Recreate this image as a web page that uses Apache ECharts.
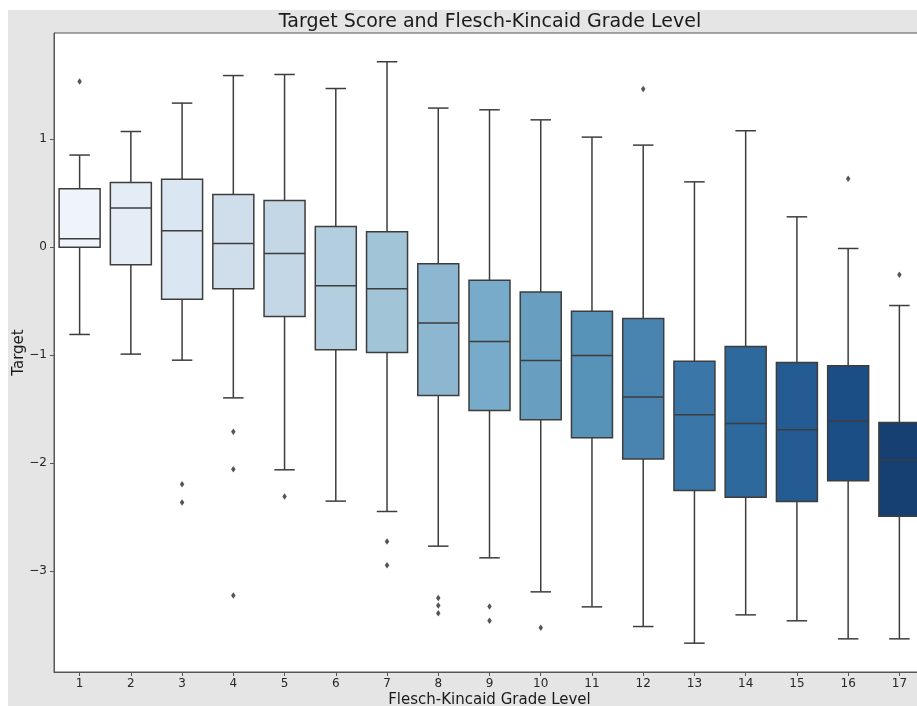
<!DOCTYPE html>
<html><head><meta charset="utf-8">
<script src="https://cdn.jsdelivr.net/npm/echarts@6/dist/echarts.min.js"></script>
<style>
html,body{margin:0;padding:0;background:#fff;width:917px;height:706px;overflow:hidden;}
#chart{position:absolute;left:8px;top:10px;width:909px;height:696px;background:#e5e5e5;}
</style></head><body><div id="chart"></div>
<script>
const categories = ['1','2','3','4','5','6','7','8','9','10','11','12','13','14','15','16','17'];
const whiskerLow = [-0.807, -0.989, -1.045, -1.394, -2.06, -2.35, -2.446, -2.767, -2.875, -3.19, -3.329, -3.511, -3.665, -3.403, -3.458, -3.625, -3.625];
const q1 = [0.0, -0.162, -0.48, -0.384, -0.64, -0.949, -0.974, -1.372, -1.511, -1.597, -1.764, -1.961, -2.252, -2.313, -2.353, -2.162, -2.489];
const medians = [0.08, 0.363, 0.153, 0.035, -0.057, -0.356, -0.384, -0.702, -0.873, -1.048, -1.002, -1.387, -1.551, -1.631, -1.69, -1.61, -1.968];
const q3 = [0.543, 0.60, 0.631, 0.489, 0.433, 0.193, 0.144, -0.153, -0.304, -0.415, -0.591, -0.659, -1.054, -0.918, -1.066, -1.097, -1.622];
const whiskerHigh = [0.854, 1.072, 1.335, 1.59, 1.60, 1.47, 1.718, 1.289, 1.273, 1.18, 1.02, 0.946, 0.606, 1.079, 0.282, -0.011, -0.539];
const outlierCats = ['1','3','3','4','4','4','5','7','7','8','8','8','9','9','10','12','16','17'];
const outlierValues = [1.535, -2.193, -2.363, -1.708, -2.054, -3.224, -2.307, -2.724, -2.943, -3.248, -3.316, -3.387, -3.326, -3.458, -3.523, 1.465, 0.634, -0.255];
const yTicks = [-3, -2, -1, 0, 1];

// seaborn "Blues" palette (desaturated 0.75 as in seaborn boxplot)
const bluesStops = [[247,251,255],[222,235,247],[198,219,239],[158,202,225],[107,174,214],[66,146,198],[33,113,181],[8,81,156],[8,48,107]];
function blues(t){
  const p = t*(bluesStops.length-1); const i = Math.min(Math.floor(p), bluesStops.length-2); const f = p-i;
  return bluesStops[i].map((c,k)=> (c + (bluesStops[i+1][k]-c)*f)/255);
}
function desat(rgb, prop){
  const [r,g,b]=rgb; const mx=Math.max(r,g,b), mn=Math.min(r,g,b); const l=(mx+mn)/2;
  if (mx===mn) return rgb;
  const d=mx-mn; let s = l<=0.5 ? d/(mx+mn) : d/(2-mx-mn);
  let h; if (mx===r) h=((g-b)/d)%6; else if (mx===g) h=(b-r)/d+2; else h=(r-g)/d+4; h/=6; if(h<0)h+=1;
  s*=prop;
  const q = l<0.5 ? l*(1+s) : l+s-l*s; const pp = 2*l-q;
  const hue=(tt)=>{ if(tt<0)tt+=1; if(tt>1)tt-=1; if(tt<1/6) return pp+(q-pp)*6*tt; if(tt<1/2) return q; if(tt<2/3) return pp+(q-pp)*(2/3-tt)*6; return pp; };
  return [hue(h+1/3), hue(h), hue(h-1/3)];
}
const n = categories.length;
const boxColors = categories.map((c,i)=>{ const rgb = desat(blues((i+1)/(n+1)), 0.75); return 'rgb('+rgb.map(v=>Math.round(v*255)).join(',')+')'; });
const lineColor = '#3d3d3d';
const fontFamily = '"DejaVu Sans", sans-serif';

const boxData = categories.map((c,i)=>[i, whiskerLow[i], q1[i], medians[i], q3[i], whiskerHigh[i]]);
const outlierData = outlierCats.map((c,i)=>[categories.indexOf(c), outlierValues[i]]);

function renderBox(params, api){
  const idx = api.value(0);
  const pLo = api.coord([idx, api.value(1)]);
  const pQ1 = api.coord([idx, api.value(2)]);
  const pMed = api.coord([idx, api.value(3)]);
  const pQ3 = api.coord([idx, api.value(4)]);
  const pHi = api.coord([idx, api.value(5)]);
  const band = api.size([1,0])[0];
  const bw = band*0.8, cw = bw*0.5, x = pMed[0];
  const ls = {stroke: lineColor, lineWidth: 1.5};
  return {type:'group', children:[
    {type:'line', shape:{x1:x,y1:pQ3[1],x2:x,y2:pHi[1]}, style:ls},
    {type:'line', shape:{x1:x,y1:pQ1[1],x2:x,y2:pLo[1]}, style:ls},
    {type:'line', shape:{x1:x-cw/2,y1:pHi[1],x2:x+cw/2,y2:pHi[1]}, style:ls},
    {type:'line', shape:{x1:x-cw/2,y1:pLo[1],x2:x+cw/2,y2:pLo[1]}, style:ls},
    {type:'rect', shape:{x:x-bw/2,y:pQ3[1],width:bw,height:pQ1[1]-pQ3[1]}, style:{fill:boxColors[idx], stroke:lineColor, lineWidth:1.5}},
    {type:'line', shape:{x1:x-bw/2,y1:pMed[1],x2:x+bw/2,y2:pMed[1]}, style:ls}
  ]};
}

const chart = echarts.init(document.getElementById('chart'), null, {renderer:'canvas'});
chart.setOption({
  animation:false,
  backgroundColor:'#e5e5e5',
  title:{text:'Target Score and Flesch-Kincaid Grade Level', left:482, top:3, textAlign:'center', padding:0,
    textStyle:{fontFamily, fontSize:19, fontWeight:'normal', color:'#1a1a1a'}},
  grid:{left:46, top:23, bottom:34, right:-8, show:true, backgroundColor:'#fff', borderColor:'#555', borderWidth:1,
    containLabel:false, outerBoundsMode:'none'},
  xAxis:{type:'category', data:categories, boundaryGap:true,
    name:'Flesch-Kincaid Grade Level', nameLocation:'middle', nameGap:21, nameMoveOverlap:false,
    nameTextStyle:{fontFamily, fontSize:15, color:'#1a1a1a'},
    axisLine:{show:true, onZero:false, lineStyle:{color:'#555', width:1}},
    axisTick:{show:true, alignWithLabel:true, length:4, lineStyle:{color:'#555'}},
    axisLabel:{fontFamily, fontSize:12, color:'#262626', margin:6},
    splitLine:{show:false}},
  yAxis:{type:'value', min:-3.932, max:1.984,
    name:'Target', nameLocation:'middle', nameGap:27, nameRotate:90, nameMoveOverlap:false,
    nameTextStyle:{fontFamily, fontSize:15, color:'#1a1a1a'},
    axisLine:{show:true, onZero:false, lineStyle:{color:'#555', width:1}},
    axisTick:{show:true, length:4, lineStyle:{color:'#555'}, customValues:yTicks},
    axisLabel:{fontFamily, fontSize:12, color:'#262626', margin:7, customValues:yTicks,
      formatter:v=> v<0 ? '\u2212'+Math.abs(v) : String(v)},
    splitLine:{show:false}},
  series:[
    {type:'custom', renderItem:renderBox, data:boxData, encode:{x:0, y:[1,2,3,4,5]}, z:2},
    {type:'scatter', data:outlierData, symbol:'diamond', symbolSize:[4.5,6.5], itemStyle:{color:'#292929'}, z:3}
  ]
});
</script></body></html>
